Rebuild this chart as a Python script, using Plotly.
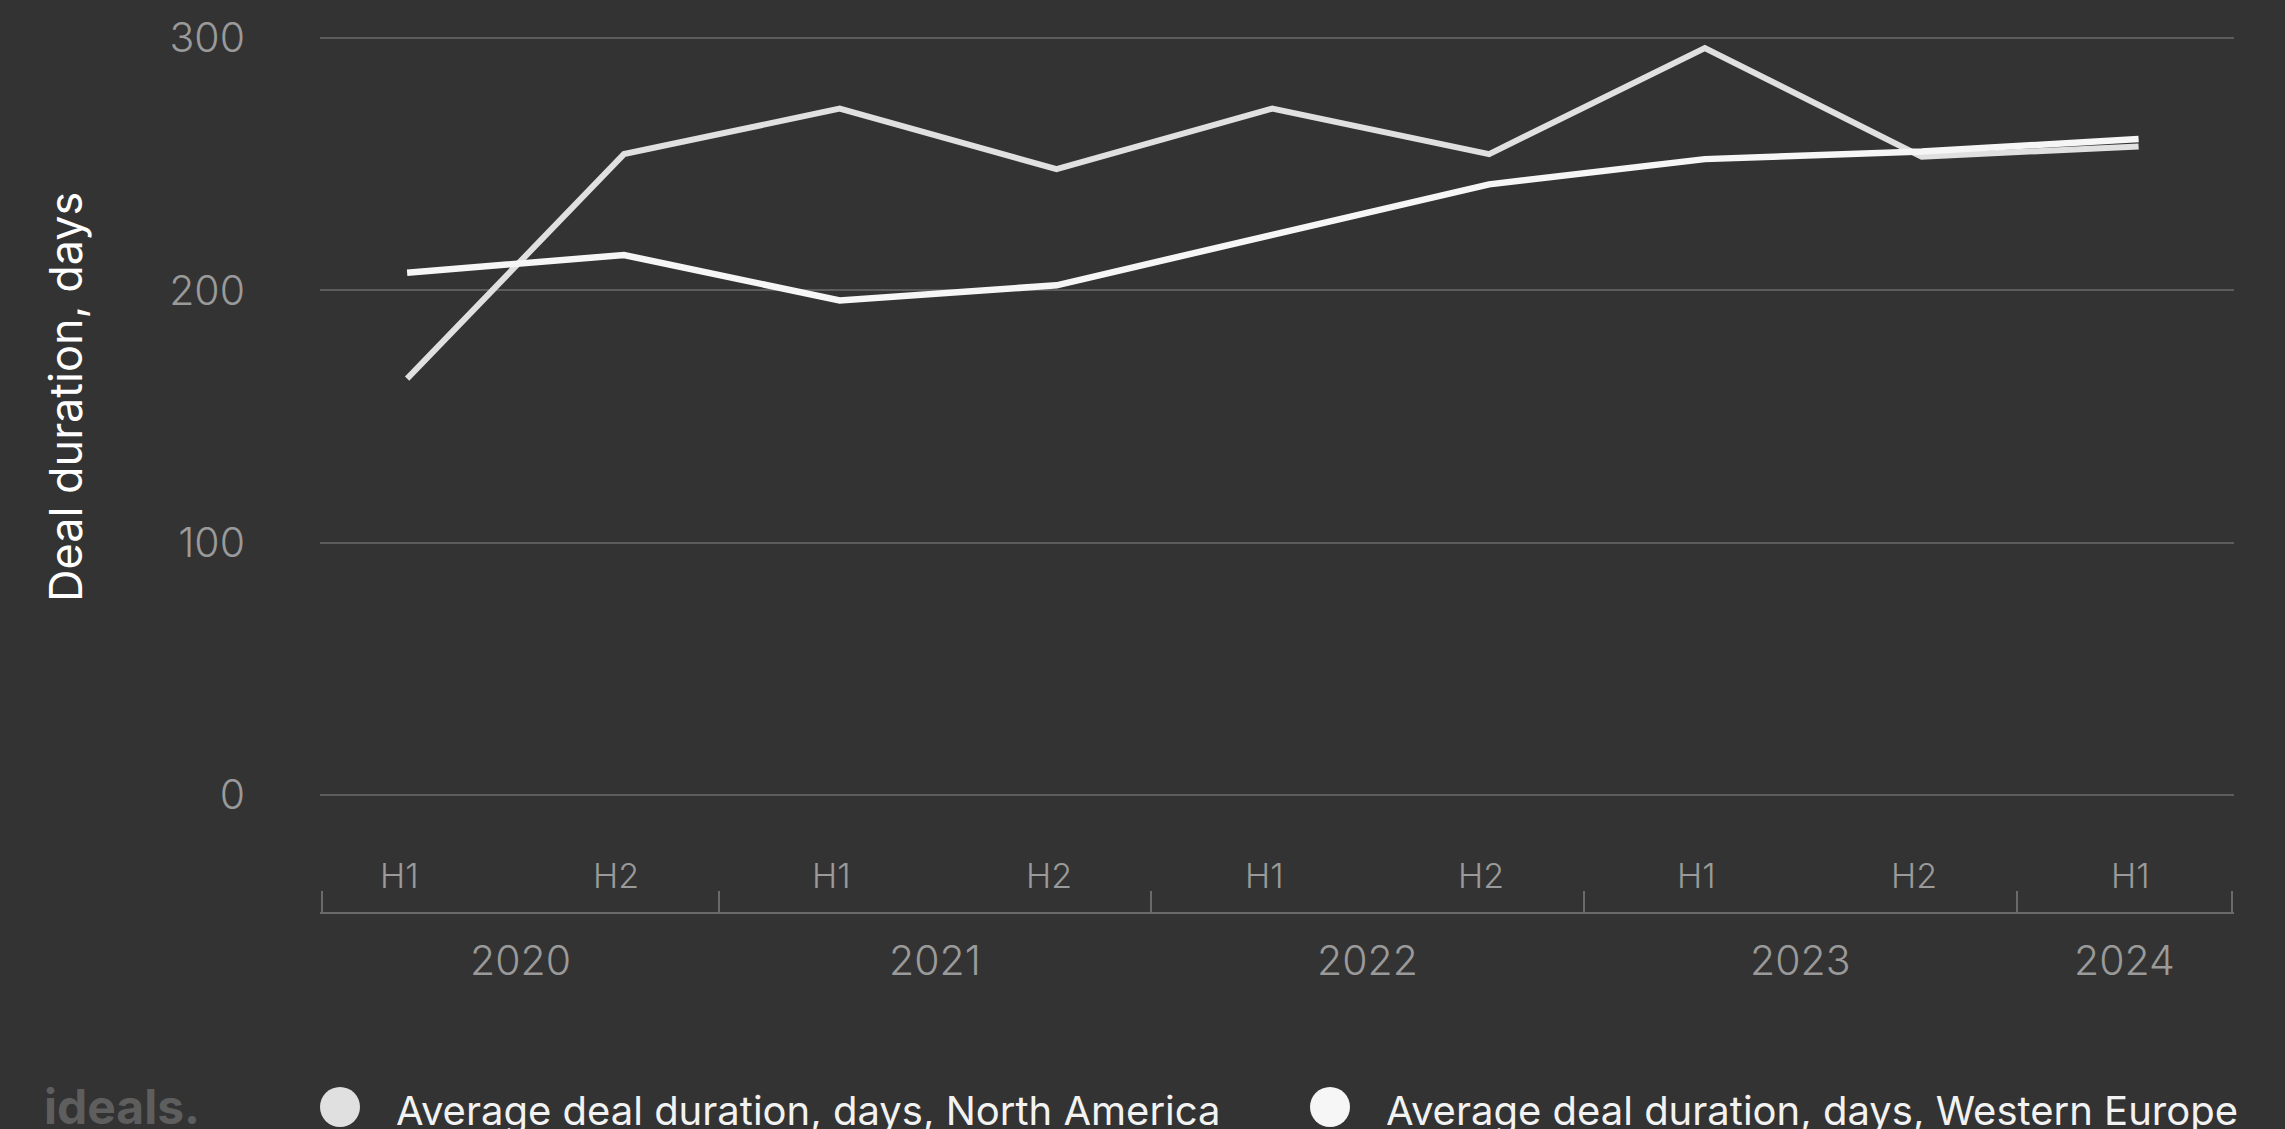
import pandas as pd
import plotly.graph_objects as go

# ---- data ----
years = [2020, 2020, 2021, 2021, 2022, 2022, 2023, 2023, 2024]
halves = ["H1", "H2", "H1", "H2", "H1", "H2", "H1", "H2", "H1"]
north_america = [165, 254, 272, 248, 272, 254, 296, 253, 257]
western_europe = [207, 214, 196, 202, 222, 242, 252, 255, 260]
series_names = ["Average deal duration, days, North America",
                 "Average deal duration, days, Western Europe"]
y_title = "Deal duration, days"
y_ticks = [0, 100, 200, 300]

# ---- styling ----
BG = "#333333"
GRID = "#5c5c5c"
AXIS = "#6a6a6a"
TICK_TXT = "#9a9a9a"
NA_COLOR = "#e0e0e0"
WE_COLOR = "#f6f6f6"
FONT = "Inter"

half_day = {"H1": "-04-13", "H2": "-10-13"}
x_dates = [pd.Timestamp(f"{y}{half_day[h]}") for y, h in zip(years, halves)]

x_start = pd.Timestamp("2020-02-01")
x_end = pd.Timestamp("2024-07-01")
pad = pd.Timedelta(hours=36)

fig = go.Figure()
fig.add_trace(go.Scatter(x=x_dates, y=north_america, mode="lines", name=series_names[0],
                         line=dict(color=NA_COLOR, width=6), showlegend=False))
fig.add_trace(go.Scatter(x=x_dates, y=western_europe, mode="lines", name=series_names[1],
                         line=dict(color=WE_COLOR, width=6.5), showlegend=False))

W, H = 2285, 1129
ml, mr, mt, mb = 320, 51, 28, 217
plot_w = W - ml - mr
plot_h = H - mt - mb
bottom_px = H - mb
px_per_unit = (795 - 38) / 300
y_min = -(bottom_px - 795) / px_per_unit
y_max = 300 + (38 - mt) / px_per_unit


def px_to_paper_x(px):
    return (px - ml) / plot_w


def px_to_paper_y(py):
    return (bottom_px - py) / plot_h


# year boundaries -> divider ticks
uniq_years = sorted(set(years))
boundaries = [x_start] + [pd.Timestamp(f"{y}-01-01") for y in uniq_years[1:]] + [x_end]

annotations = []
# half-year labels
for d, h in zip(x_dates, halves):
    annotations.append(dict(x=d, xref="x", y=0, yref="paper", text=h, showarrow=False,
                            yanchor="middle", yshift=37, xshift=-8,
                            font=dict(family=FONT, size=34, color=TICK_TXT, weight=300)))
# year labels centred on visible part of each year
for y in uniq_years:
    s = max(pd.Timestamp(f"{y}-01-01"), x_start)
    e = min(pd.Timestamp(f"{y + 1}-01-01"), x_end)
    mid = s + (e - s) / 2
    annotations.append(dict(x=mid, xref="x", y=0, yref="paper", text=str(y), showarrow=False,
                            yanchor="middle", yshift=-48,
                            font=dict(family=FONT, size=41, color=TICK_TXT, weight=300)))
# y-axis title
annotations.append(dict(x=px_to_paper_x(66), xref="paper", y=px_to_paper_y(397), yref="paper",
                        text=y_title, textangle=-90, showarrow=False,
                        xanchor="center", yanchor="middle",
                        font=dict(family=FONT, size=45, color="#ffffff")))
# legend
legend_circle_x = [340, 1330]
legend_text_x = [394, 1384]
legend_colors = [NA_COLOR, WE_COLOR]
shapes = []
for name, cx, tx, col in zip(series_names, legend_circle_x, legend_text_x, legend_colors):
    cy = -(1107 - bottom_px)
    shapes.append(dict(type="circle", xref="paper", yref="paper",
                       xsizemode="pixel", ysizemode="pixel",
                       xanchor=px_to_paper_x(cx), yanchor=0,
                       x0=-20, x1=20, y0=cy - 20, y1=cy + 20,
                       fillcolor=col, line=dict(width=0)))
    annotations.append(dict(x=px_to_paper_x(tx), xref="paper", y=0, yref="paper",
                            text=name, showarrow=False, xanchor="left", yanchor="middle",
                            yshift=-(1110 - bottom_px),
                            font=dict(family=FONT, size=40, color="#f2f2f2")))
# logo
annotations.append(dict(x=px_to_paper_x(122), xref="paper", y=0, yref="paper",
                        text="<b>ideals.</b>", showarrow=False, xanchor="center", yanchor="middle",
                        yshift=-(1106 - bottom_px),
                        font=dict(family=FONT, size=48, color="#5e5e5e")))

fig.update_layout(
    width=W, height=H,
    margin=dict(l=ml, r=mr, t=mt, b=mb, pad=0),
    paper_bgcolor=BG, plot_bgcolor=BG,
    showlegend=False,
    annotations=annotations,
    shapes=shapes,
    xaxis=dict(type="date", range=[x_start - pad, x_end + pad], tickvals=boundaries,
               showticklabels=False, ticks="inside", ticklen=21, tickwidth=2, tickcolor=AXIS,
               showline=True, linecolor=AXIS, linewidth=2, showgrid=False, zeroline=False,
               fixedrange=True),
    yaxis=dict(range=[y_min, y_max], tickvals=y_ticks,
               showgrid=True, gridcolor=GRID, gridwidth=2, zeroline=False, showline=False,
               ticks="", ticklabelstandoff=74,
               tickfont=dict(family=FONT, size=41, color=TICK_TXT, weight=300),
               fixedrange=True),
)

fig.write_html("out.html")
